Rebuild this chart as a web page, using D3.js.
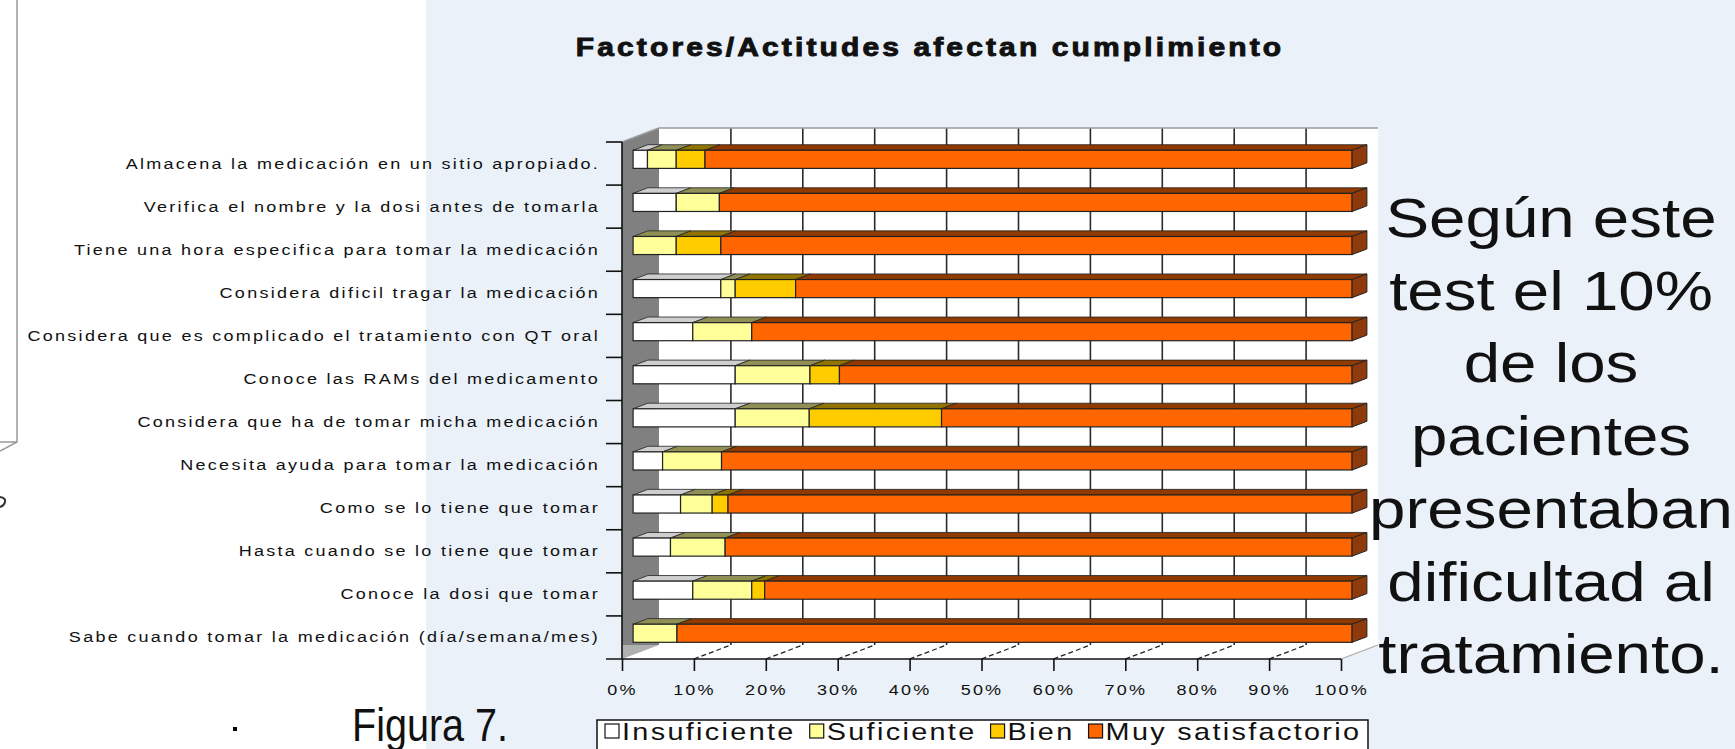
<!DOCTYPE html>
<html>
<head>
<meta charset="utf-8">
<script src="https://cdn.jsdelivr.net/npm/d3@7"></script>
<style>
  html, body { margin: 0; padding: 0; background: #fff; }
  svg { display: block; }
  text { font-family: "Liberation Sans", Arial, sans-serif; fill: #111; }
</style>
</head>
<body>
<svg width="1735" height="749"></svg>
<script>
const categories = [
    "Almacena la medicación en un sitio apropiado.",
    "Verifica el nombre y la dosi antes de tomarla",
    "Tiene una hora especifica para tomar la medicación",
    "Considera dificil tragar la medicación",
    "Considera que es complicado el tratamiento con QT oral",
    "Conoce las RAMs del medicamento",
    "Considera que ha de tomar micha medicación",
    "Necesita ayuda para tomar la medicación",
    "Como se lo tiene que tomar",
    "Hasta cuando se lo tiene que tomar",
    "Conoce la dosi que tomar",
    "Sabe cuando tomar la medicación (día/semana/mes)"
];
const insuficiente     = [2.0, 6.0, 0.0, 12.2, 8.3, 14.2, 14.2, 4.1, 6.6, 5.2, 8.3, 0.0];
const suficiente       = [4.0, 6.0, 6.0, 2.0, 8.2, 10.4, 10.3, 8.2, 4.4, 7.6, 8.2, 6.1];
const bien             = [4.0, 0.0, 6.2, 8.4, 0.0, 4.1, 18.4, 0.0, 2.2, 0.0, 1.8, 0.0];
const muySatisfactorio = [90.0, 88.0, 87.8, 77.4, 83.5, 71.3, 57.1, 87.7, 86.8, 87.2, 81.7, 93.9];

const seriesKeys = ["Insuficiente", "Suficiente", "Bien", "Muy satisfactorio"];
const seriesColors = ["#ffffff", "#ffff99", "#ffcc00", "#ff6600"];
const xTicks = [0, 0.1, 0.2, 0.3, 0.4, 0.5, 0.6, 0.7, 0.8, 0.9, 1];

const title = "Factores/Actitudes afectan cumplimiento";
const note = ["Según este", "test el 10%", "de los", "pacientes", "presentaban", "dificultad al", "tratamiento."];
const caption = "Figura 7.";

// layout (front plane of the 3D box + oblique depth)
const front = { left: 622, right: 1341, top: 142, bottom: 659 };
const depth = { dx: 37, dy: 14 };
const barNear = 0.3, barFar = 0.7;
const stretch = 1.2;

const svg = d3.select("svg");

const x = d3.scaleLinear([0, 1], [front.left, front.right]);
const rowScale = d3.scaleBand(categories, [front.top, front.bottom]);
const barScale = d3.scaleBand(categories, [front.top, front.bottom]).paddingInner(0.58).paddingOuter(0.29);
const color = d3.scaleOrdinal(seriesKeys, seriesColors);

const rows = categories.map((c, i) => ({
    category: c,
    "Insuficiente": insuficiente[i] / 100,
    "Suficiente": suficiente[i] / 100,
    "Bien": bien[i] / 100,
    "Muy satisfactorio": muySatisfactorio[i] / 100
}));
const stacked = d3.stack().keys(seriesKeys)(rows);

const shift = f => [depth.dx * f, -depth.dy * f];
const pts = p => p.map(d => d.join(",")).join(" ");

// backgrounds
svg.append("rect").attr("width", 1735).attr("height", 749).attr("fill", "#ffffff");
svg.append("rect").attr("x", 426).attr("width", 1735 - 426).attr("height", 749).attr("fill", "#eaf1f9");

// left slide remnant
svg.append("path").attr("d", "M17,0 V442 L0,451 M0,442 H17").attr("fill", "none").attr("stroke", "#9a9a9a").attr("stroke-width", 1.5);
svg.append("path").attr("d", "M0,497 q6,1 5,5 q-1,4 -5,5").attr("fill", "none").attr("stroke", "#333").attr("stroke-width", 2);
svg.append("rect").attr("x", 233).attr("y", 727).attr("width", 4).attr("height", 4).attr("fill", "#000");

// title
svg.append("g")
    .attr("transform", `translate(930,56) scale(${stretch},1)`)
    .append("text")
    .attr("text-anchor", "middle")
    .attr("font-size", 25)
    .attr("font-weight", "bold")
    .attr("letter-spacing", 2.6)
    .style("stroke", "#111").style("stroke-width", 0.9)
    .text(title);

// 3D box: back wall, side wall, floor
const [bdx, bdy] = shift(1);
svg.append("rect")
    .attr("x", x(0) + bdx).attr("y", front.top + bdy)
    .attr("width", x(1) - x(0)).attr("height", front.bottom - front.top)
    .attr("fill", "#ffffff");
svg.append("g").selectAll("line").data(xTicks.slice(1, -1)).join("line")
    .attr("x1", d => x(d) + bdx).attr("x2", d => x(d) + bdx)
    .attr("y1", front.top + bdy).attr("y2", front.bottom + bdy)
    .attr("stroke", "#2a2a2a").attr("stroke-width", 1.6);
svg.append("line")
    .attr("x1", x(0) + bdx).attr("x2", x(1) + bdx)
    .attr("y1", front.top + bdy).attr("y2", front.top + bdy)
    .attr("stroke", "#9a9a9a").attr("stroke-width", 1.5);
svg.append("polygon")
    .attr("points", pts([[x(0), front.top], [x(0) + bdx, front.top + bdy], [x(0) + bdx, front.bottom + bdy], [x(0), front.bottom]]))
    .attr("fill", "#808080");
svg.append("polygon")
    .attr("points", pts([[x(0), front.bottom], [x(0) + bdx, front.bottom + bdy], [x(0), front.bottom + bdy]]))
    .attr("fill", "#b0b0b0");
svg.append("line")
    .attr("x1", x(0)).attr("y1", front.top).attr("x2", x(0) + bdx).attr("y2", front.top + bdy)
    .attr("stroke", "#9a9a9a").attr("stroke-width", 1.5);
svg.append("polygon")
    .attr("points", pts([[x(0) + bdx, front.bottom + bdy], [x(1) + bdx, front.bottom + bdy], [x(1), front.bottom], [x(0), front.bottom]]))
    .attr("fill", "#ffffff");
svg.append("g").selectAll("line").data(xTicks.slice(1)).join("line")
    .attr("x1", d => x(d)).attr("y1", front.bottom)
    .attr("x2", d => x(d) + bdx).attr("y2", front.bottom + bdy)
    .attr("stroke", d => d === 1 ? "#aaaaaa" : "#222")
    .attr("stroke-dasharray", d => d === 1 ? null : "5,3")
    .attr("stroke-width", 1.3);

// bars
const [nx, ny] = shift(barNear);
const [fx, fy] = shift(barFar);
const segs = stacked.flatMap((s, k) => s.map(d => ({
    key: s.key, k, cat: d.data.category, x0: x(d[0]) + nx, x1: x(d[1]) + nx,
    y0: barScale(d.data.category) + ny, h: barScale.bandwidth()
}))).filter(d => d.x1 - d.x0 > 0.01);
const ddx = fx - nx, ddy = fy - ny;

const bars = svg.append("g");
bars.selectAll(".top").data(segs).join("polygon")
    .attr("class", "top")
    .attr("points", d => pts([[d.x0, d.y0], [d.x1, d.y0], [d.x1 + ddx, d.y0 + ddy], [d.x0 + ddx, d.y0 + ddy]]))
    .attr("fill", d => d3.color(color(d.key)).darker(d.k === 0 ? 0.6 : 1.6))
    .attr("stroke", "#222").attr("stroke-width", 0.8);
bars.selectAll(".front").data(segs).join("rect")
    .attr("class", "front")
    .attr("x", d => d.x0).attr("y", d => d.y0)
    .attr("width", d => d.x1 - d.x0).attr("height", d => d.h)
    .attr("fill", d => color(d.key))
    .attr("stroke", "#222").attr("stroke-width", 1.2);
bars.selectAll(".cap").data(segs.filter(d => d.k === seriesKeys.length - 1)).join("polygon")
    .attr("class", "cap")
    .attr("points", d => pts([[d.x1, d.y0], [d.x1 + ddx, d.y0 + ddy], [d.x1 + ddx, d.y0 + d.h + ddy], [d.x1, d.y0 + d.h]]))
    .attr("fill", "#8e3a0c")
    .attr("stroke", "#222").attr("stroke-width", 1);

// axes
const axisG = svg.append("g");
axisG.append("line")
    .attr("x1", x(0)).attr("x2", x(0)).attr("y1", front.top).attr("y2", front.bottom)
    .attr("stroke", "#111").attr("stroke-width", 1.6);
axisG.append("line")
    .attr("x1", x(0) - 16).attr("x2", x(1)).attr("y1", front.bottom).attr("y2", front.bottom)
    .attr("stroke", "#111").attr("stroke-width", 1.6);
axisG.selectAll(".ytick").data(categories).join("line")
    .attr("class", "ytick")
    .attr("x1", x(0) - 16).attr("x2", x(0))
    .attr("y1", d => rowScale(d)).attr("y2", d => rowScale(d))
    .attr("stroke", "#111").attr("stroke-width", 1.6);

svg.append("g")
    .attr("transform", `translate(0,${front.bottom})`)
    .call(d3.axisBottom(x).tickValues(xTicks).tickFormat(d3.format(".0%")).tickSize(12).tickSizeOuter(0).tickPadding(13))
    .call(g => g.select(".domain").remove())
    .call(g => g.selectAll(".tick line").attr("stroke", "#111").attr("stroke-width", 1.6))
    .call(g => g.selectAll(".tick text")
        .attr("font-size", 15).attr("letter-spacing", 1.8)
        .attr("font-family", "Liberation Sans, Arial, sans-serif")
        .attr("fill", "#111")
        .attr("transform", `scale(${stretch},1)`));

// category labels
svg.append("g").selectAll("g").data(categories).join("g")
    .attr("transform", c => `translate(${x(0) - 22},${rowScale(c) + rowScale.bandwidth() / 2 + 5}) scale(${stretch},1)`)
    .append("text")
    .attr("text-anchor", "end")
    .attr("font-size", 15)
    .attr("letter-spacing", 1.9)
    .text(c => c);

// legend
const legend = svg.append("g");
legend.append("rect")
    .attr("x", 597).attr("y", 720).attr("width", 771).attr("height", 60)
    .attr("fill", "#ffffff").attr("stroke", "#111").attr("stroke-width", 1.5);
let lx = 605;
seriesKeys.forEach(key => {
    legend.append("rect")
        .attr("x", lx).attr("y", 724).attr("width", 14).attr("height", 14)
        .attr("fill", color(key)).attr("stroke", "#111").attr("stroke-width", 1.2);
    const t = legend.append("g")
        .attr("transform", `translate(${lx + 17},740) scale(${stretch},1)`)
        .append("text")
        .attr("font-size", 24)
        .attr("letter-spacing", 1.95)
        .text(key);
    lx += 17 + t.node().getComputedTextLength() * stretch + 14;
});

// caption and side note
svg.append("g")
    .attr("transform", "translate(352,741) scale(0.86,1)")
    .append("text")
    .attr("font-size", 46)
    .text(caption);

svg.append("g").selectAll("g").data(note).join("g")
    .attr("transform", (d, i) => `translate(1551,${237 + i * 72.7}) scale(1.19,1)`)
    .append("text")
    .attr("text-anchor", "middle")
    .attr("font-size", 55)
    .text(d => d);
</script>
</body>
</html>
